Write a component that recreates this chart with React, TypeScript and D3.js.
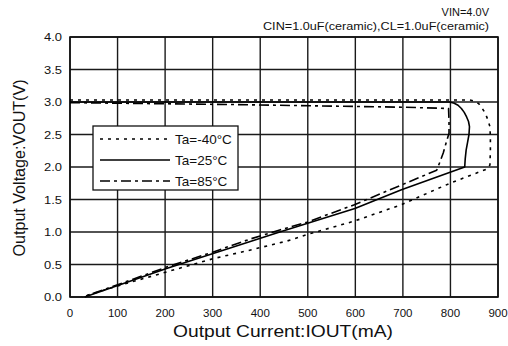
import React from "react";
import * as d3 from "d3";

const W = 508;
const H = 346;

const xTicks = [0, 100, 200, 300, 400, 500, 600, 700, 800, 900];
const yTicks = [0, 0.5, 1.0, 1.5, 2.0, 2.5, 3.0, 3.5, 4.0];

// Ta = -40°C
const m40I = [0, 841, 852, 860, 867, 873, 879, 883, 884, 884, 883, 877, 799, 697, 599, 498, 456, 378, 301, 210, 100, 25];
const m40V = [3.03, 3.03, 3.01, 2.97, 2.9, 2.83, 2.72, 2.62, 2.45, 2.25, 2.03, 1.97, 1.75, 1.42, 1.17, 0.96, 0.86, 0.72, 0.59, 0.4, 0.17, 0.0];
// Ta = 25°C
const p25I = [0, 798, 808, 816, 823, 829, 834, 838, 840, 839, 836, 833, 831, 830, 697, 599, 441, 301, 203, 31];
const p25V = [3.0, 3.0, 2.98, 2.95, 2.9, 2.84, 2.77, 2.7, 2.62, 2.5, 2.38, 2.26, 2.12, 2.0, 1.65, 1.36, 1.0, 0.67, 0.44, 0.0];
// Ta = 85°C
const p85I = [0, 350, 700, 796, 797, 797, 792, 785, 778, 771, 673, 598, 498, 441, 378, 300, 203, 28];
const p85V = [2.99, 2.96, 2.92, 2.9, 2.7, 2.52, 2.4, 2.22, 2.08, 1.95, 1.65, 1.42, 1.15, 1.03, 0.89, 0.69, 0.46, 0.0];

const legendLabels = ["Ta=-40°C", "Ta=25°C", "Ta=85°C"];
const dashes = ["3,5", "none", "10,4,3,4"];

export default function App() {
  const x = d3.scaleLinear().domain([0, 900]).range([70, 498]);
  const y = d3.scaleLinear().domain([0, 4]).range([297, 37]);
  const line = d3
    .line<[number, number]>()
    .x((d) => x(d[0]))
    .y((d) => y(d[1]));

  const mk = (I: number[], V: number[]) => I.map((v, i) => [v, V[i]] as [number, number]);
  const series = [mk(m40I, m40V), mk(p25I, p25V), mk(p85I, p85V)];

  const font = "'Liberation Sans', Arial, sans-serif";

  return (
    <svg width={W} height={H} style={{ position: "absolute", left: 0, top: 0 }} fontFamily={font}>
      <rect x={0} y={0} width={W} height={H} fill="#fff" />
      {/* grid */}
      {xTicks.map((t) => (
        <line key={"gx" + t} x1={x(t)} x2={x(t)} y1={y(0)} y2={y(4)} stroke="#1a1a1a" strokeWidth={1.4} />
      ))}
      {yTicks.map((t) => (
        <line key={"gy" + t} x1={x(0)} x2={x(900)} y1={y(t)} y2={y(t)} stroke="#1a1a1a" strokeWidth={1.4} />
      ))}
      <rect x={x(0)} y={y(4)} width={x(900) - x(0)} height={y(0) - y(4)} fill="none" stroke="#111" strokeWidth={1.6} />

      {/* curves */}
      {series.map((s, i) => (
        <path
          key={"s" + i}
          d={line(s) || ""}
          fill="none"
          stroke="#000"
          strokeWidth={1.6}
          strokeLinejoin="round"
          strokeDasharray={dashes[i]}
        />
      ))}

      {/* legend */}
      <rect x={93} y={126} width={145} height={64} fill="#fff" stroke="#111" strokeWidth={1.3} />
      {legendLabels.map((l, i) => {
        const ly = [139, 160, 181][i];
        return (
          <g key={"l" + i}>
            <line x1={100} x2={170} y1={ly} y2={ly} stroke="#000" strokeWidth={1.6} strokeDasharray={dashes[i]} />
            <text x={175} y={ly + 5} fontSize={13.5} fill="#111">
              {l}
            </text>
          </g>
        );
      })}

      {/* tick labels */}
      {xTicks.map((t) => (
        <text key={"tx" + t} x={x(t)} y={317} fontSize={11.5} textAnchor="middle" fill="#111">
          {String(t)}
        </text>
      ))}
      {yTicks.map((t) => (
        <text key={"ty" + t} x={62} y={y(t) + 4} fontSize={11} textAnchor="end" fill="#111" textLength={18} lengthAdjust="spacingAndGlyphs">
          {t.toFixed(1)}
        </text>
      ))}

      {/* titles */}
      <text x={489} y={16} fontSize={11} textAnchor="end" fill="#111">
        VIN=4.0V
      </text>
      <text x={489} y={30} fontSize={11} textAnchor="end" fill="#111" textLength={226} lengthAdjust="spacingAndGlyphs">
        CIN=1.0uF(ceramic),CL=1.0uF(ceramic)
      </text>
      <text x={283} y={337} fontSize={17} textAnchor="middle" fill="#111" textLength={220} lengthAdjust="spacingAndGlyphs">
        Output Current:IOUT(mA)
      </text>
      <text
        transform={`translate(25,${168}) rotate(-90)`}
        fontSize={16}
        textAnchor="middle"
        fill="#111"
        textLength={177}
        lengthAdjust="spacingAndGlyphs"
      >
        Output Voltage:VOUT(V)
      </text>
    </svg>
  );
}
